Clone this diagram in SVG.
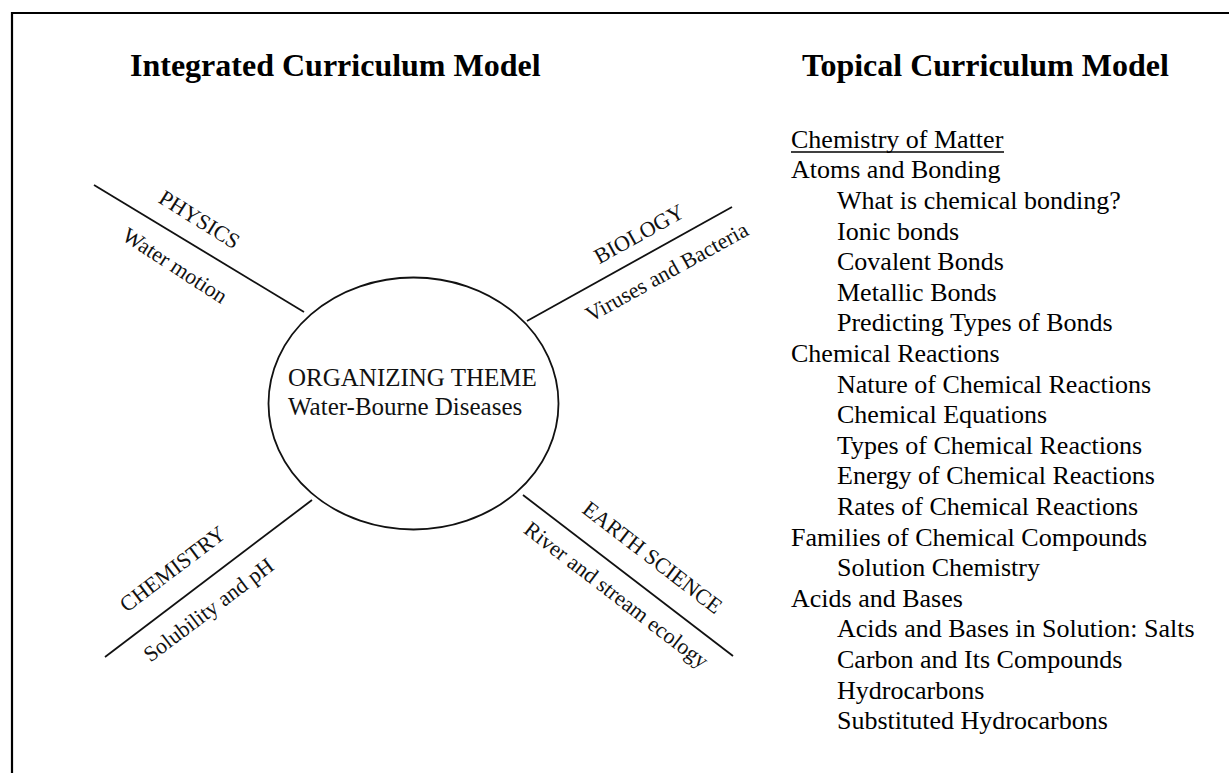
<svg xmlns="http://www.w3.org/2000/svg" width="1229" height="773" viewBox="0 0 1229 773">
<style>
.title{font-family:"Liberation Serif","Times New Roman",serif;font-weight:bold;font-size:32px;fill:#000}
.item{font-family:"Liberation Serif","Times New Roman",serif;font-size:26px;fill:#000}
.lbl{font-family:"Liberation Serif","Times New Roman",serif;font-size:22px;fill:#111;text-anchor:middle}
.theme{font-family:"Liberation Serif","Times New Roman",serif;font-size:25px;fill:#111}
.spoke{stroke:#111;stroke-width:1.8;fill:none}
</style>
<rect width="1229" height="773" fill="#fff"/>
<path d="M12,773 L12,13 L1229,13" fill="none" stroke="#000" stroke-width="2.2"/>
<text class="title" x="130" y="76">Integrated Curriculum Model</text>
<text class="title" x="802" y="76">Topical Curriculum Model</text>

<g id="connectors">
<line class="spoke" x1="94" y1="185" x2="304" y2="312"/>
<line class="spoke" x1="527" y1="321" x2="732" y2="207"/>
<line class="spoke" x1="105" y1="657" x2="312" y2="500"/>
<line class="spoke" x1="523" y1="495" x2="733" y2="656"/>
</g>

<g id="theme">
<ellipse class="spoke" cx="413.5" cy="403.5" rx="145" ry="126"/>
<text class="theme" x="288" y="386">ORGANIZING THEME</text>
<text class="theme" x="288" y="415">Water-Bourne Diseases</text>
</g>

<g id="physics">
<text class="lbl" transform="translate(199.5,219.5) rotate(32)" y="7.3">PHYSICS</text>
<text class="lbl" transform="translate(173.75,267.5) rotate(33)" y="5">Water motion</text>
</g>
<g id="biology">
<text class="lbl" transform="translate(639,234) rotate(-29)" y="7.3">BIOLOGY</text>
<text class="lbl" transform="translate(668,274) rotate(-29)" y="5">Viruses and Bacteria</text>
</g>
<g id="chemistry">
<text class="lbl" transform="translate(172.5,569) rotate(-37.2)" y="7.3">CHEMISTRY</text>
<text class="lbl" transform="translate(210,611.7) rotate(-37)" y="5">Solubility and pH</text>
</g>
<g id="earth">
<text class="lbl" transform="translate(652.5,557.5) rotate(37.5)" y="7.3">EARTH SCIENCE</text>
<text class="lbl" transform="translate(615,596.7) rotate(37.5)" y="5">River and stream ecology</text>
</g>

<g id="topical">
<text class="item" x="791" y="147.7">Chemistry of Matter</text>
<line x1="791" y1="152" x2="1004" y2="152" stroke="#000" stroke-width="1.5"/>
<text class="item" x="791" y="178.3">Atoms and Bonding</text>
<text class="item" x="837" y="208.9">What is chemical bonding?</text>
<text class="item" x="837" y="239.5">Ionic bonds</text>
<text class="item" x="837" y="270.1">Covalent Bonds</text>
<text class="item" x="837" y="300.7">Metallic Bonds</text>
<text class="item" x="837" y="331.3">Predicting Types of Bonds</text>
<text class="item" x="791" y="361.9">Chemical Reactions</text>
<text class="item" x="837" y="392.5">Nature of Chemical Reactions</text>
<text class="item" x="837" y="423.1">Chemical Equations</text>
<text class="item" x="837" y="453.7">Types of Chemical Reactions</text>
<text class="item" x="837" y="484.3">Energy of Chemical Reactions</text>
<text class="item" x="837" y="514.9">Rates of Chemical Reactions</text>
<text class="item" x="791" y="545.5">Families of Chemical Compounds</text>
<text class="item" x="837" y="576.1">Solution Chemistry</text>
<text class="item" x="791" y="606.7">Acids and Bases</text>
<text class="item" x="837" y="637.3">Acids and Bases in Solution: Salts</text>
<text class="item" x="837" y="667.9">Carbon and Its Compounds</text>
<text class="item" x="837" y="698.5">Hydrocarbons</text>
<text class="item" x="837" y="729.1">Substituted Hydrocarbons</text>
</g>
</svg>
